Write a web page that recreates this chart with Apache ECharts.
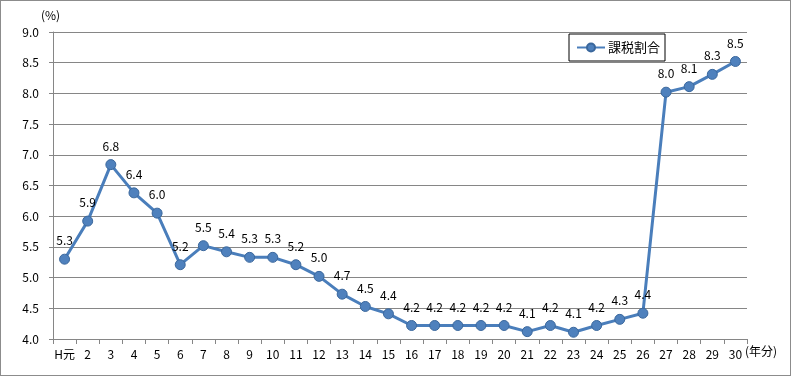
<!DOCTYPE html>
<html>
<head>
<meta charset="utf-8">
<script src="https://cdn.jsdelivr.net/npm/echarts@6/dist/echarts.min.js"></script>
<style>
  html, body { margin: 0; padding: 0; background: #fff; }
  #chart { width: 789px; height: 374px; border: 1px solid #8c8c8c; }
</style>
</head>
<body>
<div id="chart"></div>
<script>
// 年分 (H元 ~ 30)
const categories = ['H元', '2', '3', '4', '5', '6', '7', '8', '9', '10',
  '11', '12', '13', '14', '15', '16', '17', '18', '19', '20',
  '21', '22', '23', '24', '25', '26', '27', '28', '29', '30'];
// 課税割合 (%)
const taxRatio = [5.30, 5.92, 6.84, 6.38, 6.05, 5.21, 5.52, 5.42, 5.33, 5.33,
  5.21, 5.02, 4.73, 4.53, 4.41, 4.22, 4.22, 4.22, 4.22, 4.22,
  4.12, 4.22, 4.11, 4.22, 4.32, 4.42, 8.02, 8.11, 8.31, 8.52];
const yTicks = [4.0, 4.5, 5.0, 5.5, 6.0, 6.5, 7.0, 7.5, 8.0, 8.5, 9.0];

const font = '"Noto Sans CJK JP", "Noto Sans", sans-serif';
const chart = echarts.init(document.getElementById('chart'));
chart.setOption({
  animation: false,
  textStyle: { fontFamily: font },
  grid: { left: 52, right: 43, top: 31, bottom: 36 },
  legend: {
    data: ['課税割合'],
    left: 568, top: 33,
    padding: [7, 5, 7, 7],
    borderColor: '#000', borderWidth: 1,
    itemWidth: 28, itemHeight: 10, itemGap: 4,
    textStyle: { fontSize: 13, color: '#000', fontFamily: font, padding: [0, 0, 0, -2] }
  },
  graphic: [
    { type: 'text', left: 40, top: 8, style: { text: '(%)', fontSize: 12, fill: '#000', fontFamily: font } },
    { type: 'text', left: 744, top: 344, style: { text: '(年分)', fontSize: 12, fill: '#000', fontFamily: font } }
  ],
  xAxis: {
    type: 'category',
    data: categories,
    boundaryGap: true,
    axisLine: { lineStyle: { color: '#868686', width: 1 } },
    axisTick: { show: true, length: 5, lineStyle: { color: '#868686' } },
    axisLabel: { color: '#000', fontSize: 12, margin: 9, interval: 0 }
  },
  yAxis: {
    type: 'value',
    min: 4.0, max: 9.0, interval: 0.5,
    axisLine: { show: true, lineStyle: { color: '#868686' } },
    axisTick: { show: true, length: 4, lineStyle: { color: '#868686' } },
    axisLabel: {
      color: '#000', fontSize: 12, margin: 14,
      formatter: v => yTicks.includes(Math.round(v * 10) / 10) ? v.toFixed(1) : ''
    },
    splitLine: { lineStyle: { color: '#868686', width: 1 } }
  },
  series: [{
    name: '課税割合',
    type: 'line',
    data: taxRatio,
    symbol: 'circle',
    symbolSize: 10,
    lineStyle: { color: '#4a7ebb', width: 3 },
    itemStyle: { color: '#4f81bd', borderColor: '#3a679c', borderWidth: 1 },
    label: {
      show: true, position: 'top', distance: 7,
      color: '#000', fontSize: 12,
      formatter: p => p.value.toFixed(1)
    }
  }]
});
</script>
</body>
</html>
